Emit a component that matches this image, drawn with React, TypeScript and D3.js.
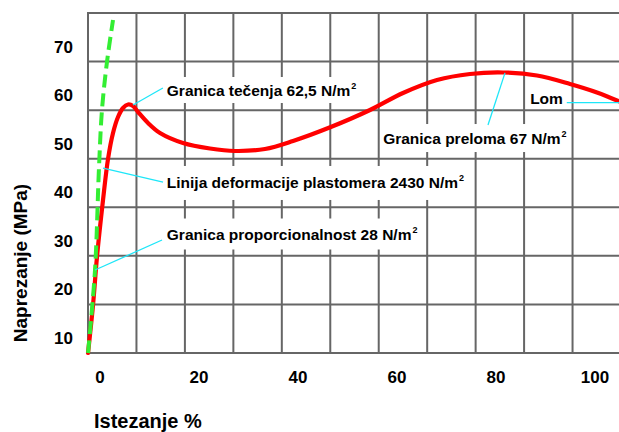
import { useEffect, useRef } from "react";
import * as d3 from "d3";

// Tick labels
const xTicks = [0, 20, 40, 60, 80, 100];
const yTicks = [10, 20, 30, 40, 50, 60, 70];

// Stress-strain curve (strain %, stress MPa)
const strain = [
  -2.42, -1.41, -0.61, 0.61, 1.62, 2.63, 3.64, 4.65, 5.66, 6.67, 7.68, 9.7,
  12.12, 16.77, 22.22, 27.27, 33.33, 39.0, 46.5, 54.55, 61.21, 68.08, 74.75,
  81.41, 88.28, 94.95, 100.4, 104.85,
];
const stress = [
  6.91, 16.8, 26.68, 38.42, 46.87, 52.22, 55.52, 57.37, 58.09, 57.79, 56.55,
  54.28, 52.22, 50.16, 49.03, 48.52, 48.93, 50.58, 53.4, 56.96, 60.46, 63.14,
  64.38, 64.69, 64.07, 62.33, 60.58, 58.73,
];

// Deformation line of the plastomer (dashed)
const lineStrain = [-2.42, -1.01, -0.2, 0.4, 1.41, 2.63];
const lineStress = [6.91, 24.0, 45.22, 56.96, 66.85, 75.5];

// Annotations
const noteText = [
  "Granica tečenja 62,5 N/m",
  "Linija deformacije plastomera 2430 N/m",
  "Granica proporcionalnost 28 N/m",
  "Granica preloma 67 N/m",
  "Lom",
];
const noteSup = ["2", "2", "2", "2", ""];
const notePoint = [
  [6.67, 58.0],
  [0.61, 45.0],
  [-1.01, 24.0],
  [81.82, 64.6],
  [104.85, 58.5],
];
const noteLineEnd = [
  [12.7, 61.5],
  [12.73, 42.13],
  [12.53, 30.19],
  [78.38, 53.87],
  [94.3, 58.5],
];
const noteAt = [
  [13.5, 61.08],
  [13.5, 41.93],
  [13.5, 31.42],
  [57.2, 51.19],
  [86.9, 59.23],
];

const W = 619;
const H = 432;
const FONT = "'Liberation Sans', Arial, sans-serif";

export default function App() {
  const svgRef = useRef<SVGSVGElement | null>(null);

  useEffect(() => {
    const svg = d3.select(svgRef.current);
    svg.selectAll("*").remove();

    // Scales
    const x = d3.scaleLinear().domain([0, 100]).range([100, 595]);
    const y = d3.scaleLinear().domain([10, 70]).range([338, 46.7]);

    // Plot frame in value space
    const x0 = x.invert(88);
    const x1 = x.invert(621);
    const y0 = y.invert(353);
    const y1 = y.invert(13);

    // Grid: 11 x 7 squares
    const gx = d3.scaleLinear().domain([0, 11]).range([x(x0), x(x1)]);
    const gy = d3.scaleLinear().domain([0, 7]).range([y(y0), y(y1)]);
    const grid = svg.append("g").attr("stroke", "#666").attr("stroke-width", 2);
    grid
      .selectAll("line.v")
      .data(d3.range(12))
      .join("line")
      .attr("class", "v")
      .attr("x1", (d) => gx(d))
      .attr("x2", (d) => gx(d))
      .attr("y1", gy(0) + 1)
      .attr("y2", gy(7) - 1);
    grid
      .selectAll("line.h")
      .data(d3.range(8))
      .join("line")
      .attr("class", "h")
      .attr("x1", gx(0) - 1)
      .attr("x2", gx(11))
      .attr("y1", (d) => gy(d))
      .attr("y2", (d) => gy(d));

    // Tick labels
    svg
      .append("g")
      .selectAll("text")
      .data(xTicks)
      .join("text")
      .attr("x", (d) => x(d))
      .attr("y", 383)
      .attr("text-anchor", "middle")
      .attr("font-family", FONT)
      .attr("font-weight", "bold")
      .attr("font-size", 17)
      .text((d) => d);

    svg
      .append("g")
      .selectAll("text")
      .data(yTicks)
      .join("text")
      .attr("x", 73)
      .attr("y", (d) => y(d) + 6)
      .attr("text-anchor", "end")
      .attr("font-family", FONT)
      .attr("font-weight", "bold")
      .attr("font-size", 17)
      .text((d) => d);

    // Axis titles
    svg
      .append("text")
      .attr("x", 94)
      .attr("y", 428)
      .attr("font-family", FONT)
      .attr("font-weight", "bold")
      .attr("font-size", 20)
      .text("Istezanje %");

    svg
      .append("text")
      .attr("transform", "translate(27,263) rotate(-90)")
      .attr("text-anchor", "middle")
      .attr("font-family", FONT)
      .attr("font-weight", "bold")
      .attr("font-size", 19)
      .text("Naprezanje (MPa)");

    // Annotation label boxes + text
    const boxH = [26, 34, 31, 28, 18];
    const boxes = svg.append("g");
    const labels = svg.append("g");
    noteText.forEach((t, i) => {
      const txt = labels
        .append("text")
        .attr("x", x(noteAt[i][0]))
        .attr("y", y(noteAt[i][1]) + 5.5)
        .attr("font-family", FONT)
        .attr("font-weight", "bold")
        .attr("font-size", 15.5)
        .text(t);
      if (noteSup[i]) {
        txt
          .append("tspan")
          .attr("dy", -7)
          .attr("dx", 1)
          .attr("font-size", 9)
          .text(noteSup[i]);
      }
      const bb = (txt.node() as SVGTextElement).getBBox();
      const cy = y(noteAt[i][1]);
      boxes
        .append("rect")
        .attr("x", bb.x - 3)
        .attr("y", cy - boxH[i] / 2)
        .attr("width", bb.width + 6)
        .attr("height", boxH[i])
        .attr("fill", "#fff");
    });

    // Curves
    const pts = strain.map((e, i) => [e, stress[i]] as [number, number]);
    const linePts = lineStrain.map((e, i) => [e, lineStress[i]] as [number, number]);
    const path = d3
      .line<[number, number]>()
      .x((d) => x(d[0]))
      .y((d) => y(d[1]))
      .curve(d3.curveCatmullRom.alpha(0.5));

    svg
      .append("path")
      .datum(pts)
      .attr("d", path)
      .attr("fill", "none")
      .attr("stroke", "#ff0000")
      .attr("stroke-width", 4.2)
      .attr("stroke-linecap", "round");

    svg
      .append("path")
      .datum(linePts)
      .attr("d", path)
      .attr("fill", "none")
      .attr("stroke", "#33ee33")
      .attr("stroke-width", 4)
      .attr("stroke-dasharray", "13,6");

    // Leader lines
    svg
      .append("g")
      .selectAll("line")
      .data(notePoint)
      .join("line")
      .attr("x1", (d) => x(d[0]))
      .attr("y1", (d) => y(d[1]))
      .attr("x2", (_, i) => x(noteLineEnd[i][0]))
      .attr("y2", (_, i) => y(noteLineEnd[i][1]))
      .attr("stroke", "#1ee6f8")
      .attr("stroke-width", 1.3);
  }, []);

  return (
    <svg
      ref={svgRef}
      width={W}
      height={H}
      style={{ position: "absolute", left: 0, top: 0, background: "#fff" }}
    />
  );
}
